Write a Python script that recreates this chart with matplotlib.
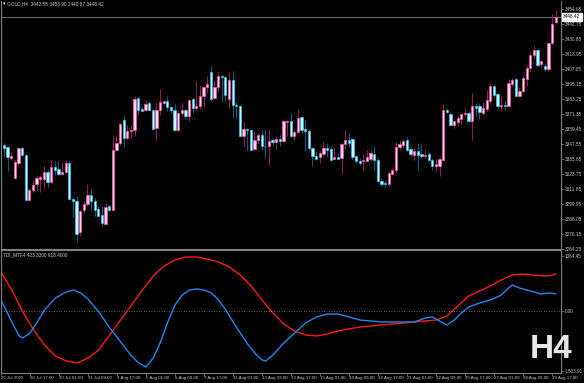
import matplotlib.pyplot as plt

plt.rcParams['font.family'] = ['Liberation Sans', 'DejaVu Sans']

# GOLD H4 candles, 25 Jul 09:00 .. 29 Aug 21:00
opens = [3360.2, 3346.5, 3344.9, 3336.4, 3320.6, 3332.5, 3344.1, 3339.1, 3303.4, 3311.3,
         3316.1, 3319.8, 3320.0, 3325.6, 3317.4, 3329.0, 3327.7, 3323.7, 3325.3, 3332.5,
         3303.9, 3302.1, 3277.5, 3294.9, 3300.2, 3307.3, 3302.6, 3296.0, 3291.5, 3284.3,
         3298.1, 3294.9, 3342.5, 3348.3, 3366.8, 3352.3, 3358.1, 3358.4, 3384.0, 3375.3,
         3374.8, 3380.1, 3374.8, 3360.2, 3374.8, 3380.1, 3381.6, 3376.6, 3374.8, 3358.9,
         3372.1, 3374.8, 3369.5, 3383.2, 3375.8, 3377.4, 3385.3, 3392.7, 3404.4, 3384.0,
         3392.7, 3401.7, 3400.7, 3383.2, 3398.0, 3378.7, 3378.0, 3353.6, 3359.4, 3358.4,
         3343.6, 3350.4, 3354.9, 3346.2, 3346.2, 3350.9, 3349.1, 3351.8, 3349.6, 3364.7,
         3365.5, 3354.1, 3357.1, 3368.9, 3359.7, 3357.6, 3344.4, 3338.3, 3337.2, 3339.9,
         3344.4, 3343.6, 3335.6, 3336.9, 3336.4, 3347.5, 3350.4, 3351.5, 3337.8, 3334.3,
         3333.8, 3333.8, 3335.6, 3339.9, 3335.1, 3317.9, 3316.6, 3316.1, 3324.0, 3326.6,
         3345.2, 3347.0, 3351.0, 3343.6, 3339.1, 3341.7, 3339.6, 3337.8, 3339.9, 3334.6,
         3330.3, 3330.3, 3334.6, 3374.8, 3371.6, 3362.9, 3364.7, 3367.4, 3371.3, 3372.1,
         3365.5, 3377.4, 3377.4, 3372.1, 3375.3, 3381.4, 3393.8, 3387.5, 3377.4, 3378.7,
         3378.0, 3395.4, 3399.1, 3385.9, 3389.3, 3399.4, 3407.8, 3418.5, 3422.0, 3411.3,
         3409.5, 3406.8, 3428.0, 3444.3]
highs = [3361.6, 3348.3, 3345.7, 3340.9, 3335.1, 3345.2, 3346.2, 3339.6, 3312.6, 3318.7,
         3321.9, 3323.2, 3330.3, 3327.2, 3335.1, 3333.8, 3333.8, 3333.0, 3335.1, 3333.8,
         3305.5, 3306.0, 3295.4, 3302.1, 3315.8, 3311.8, 3304.7, 3298.1, 3298.1, 3300.7,
         3299.4, 3354.9, 3354.9, 3364.2, 3369.5, 3362.9, 3362.9, 3385.9, 3384.8, 3377.4,
         3382.2, 3381.4, 3375.3, 3380.1, 3391.2, 3382.2, 3385.9, 3377.9, 3379.3, 3374.8,
         3380.1, 3376.1, 3383.2, 3384.8, 3397.8, 3394.6, 3393.8, 3401.7, 3409.1, 3398.6,
         3404.4, 3402.5, 3401.2, 3404.4, 3405.7, 3380.6, 3378.7, 3364.7, 3360.2, 3358.9,
         3357.6, 3356.3, 3358.9, 3358.9, 3359.4, 3352.3, 3354.1, 3354.9, 3366.8, 3366.8,
         3372.1, 3358.9, 3375.3, 3369.5, 3366.8, 3359.4, 3345.2, 3341.7, 3341.7, 3349.6,
         3348.3, 3346.2, 3345.2, 3340.4, 3348.3, 3358.9, 3356.3, 3352.3, 3339.1, 3336.4,
         3339.9, 3342.5, 3342.5, 3346.2, 3336.4, 3320.6, 3317.9, 3325.9, 3328.5, 3348.9,
         3351.0, 3351.5, 3352.8, 3345.2, 3344.4, 3348.3, 3348.3, 3342.5, 3340.9, 3336.4,
         3335.6, 3337.2, 3379.5, 3376.1, 3372.6, 3366.8, 3370.0, 3372.1, 3376.1, 3373.4,
         3388.0, 3380.1, 3380.1, 3380.6, 3390.1, 3395.9, 3395.4, 3388.0, 3385.3, 3381.4,
         3399.1, 3399.9, 3399.9, 3391.9, 3402.5, 3410.5, 3420.5, 3425.0, 3424.0, 3414.0,
         3412.1, 3428.8, 3450.5, 3453.9]
lows = [3345.2, 3337.8, 3325.9, 3335.1, 3320.0, 3331.1, 3337.8, 3302.6, 3302.6, 3309.2,
        3310.8, 3309.2, 3312.6, 3313.4, 3316.6, 3323.2, 3323.2, 3323.2, 3324.5, 3303.4,
        3289.6, 3269.0, 3274.3, 3292.8, 3298.1, 3294.1, 3290.7, 3290.2, 3282.2, 3283.5,
        3294.1, 3294.1, 3341.7, 3347.0, 3345.2, 3351.5, 3352.3, 3353.6, 3371.6, 3373.4,
        3374.0, 3374.2, 3359.2, 3350.4, 3370.8, 3379.5, 3373.4, 3372.1, 3358.1, 3358.1,
        3370.8, 3367.4, 3365.5, 3372.1, 3374.8, 3375.3, 3376.9, 3388.0, 3381.4, 3383.5,
        3389.3, 3380.6, 3381.4, 3376.1, 3368.2, 3368.2, 3353.1, 3345.2, 3341.7, 3342.5,
        3343.0, 3348.3, 3343.0, 3336.4, 3331.1, 3346.2, 3343.6, 3346.2, 3349.1, 3354.1,
        3353.1, 3350.4, 3356.3, 3356.3, 3341.7, 3343.0, 3330.3, 3335.1, 3332.5, 3339.1,
        3337.8, 3333.8, 3335.1, 3335.1, 3324.0, 3343.6, 3345.2, 3335.6, 3332.5, 3331.1,
        3326.6, 3333.0, 3333.8, 3325.9, 3316.6, 3314.5, 3312.6, 3313.9, 3323.2, 3324.5,
        3343.0, 3344.4, 3341.7, 3337.8, 3335.1, 3325.9, 3336.4, 3336.2, 3333.8, 3327.2,
        3325.9, 3321.9, 3333.8, 3372.1, 3361.6, 3360.2, 3361.6, 3362.9, 3369.5, 3364.7,
        3351.0, 3369.5, 3367.4, 3370.8, 3373.4, 3380.1, 3384.8, 3376.1, 3374.8, 3374.2,
        3377.4, 3393.3, 3385.3, 3384.8, 3388.0, 3393.3, 3405.5, 3416.0, 3408.5, 3408.1,
        3405.5, 3405.5, 3427.2, 3442.6]
closes = [3345.7, 3344.4, 3337.0, 3337.8, 3333.0, 3344.4, 3338.5, 3303.4, 3311.3, 3315.3,
          3320.6, 3321.1, 3325.3, 3317.1, 3329.0, 3327.2, 3323.7, 3325.6, 3332.2, 3303.9,
          3302.1, 3276.4, 3294.6, 3300.2, 3307.3, 3302.1, 3295.4, 3290.7, 3284.9, 3297.3,
          3295.4, 3342.5, 3348.3, 3363.4, 3352.3, 3358.1, 3358.9, 3383.5, 3374.2, 3374.0,
          3379.5, 3374.8, 3359.7, 3374.2, 3380.6, 3381.6, 3376.6, 3374.8, 3358.9, 3372.1,
          3374.8, 3369.5, 3382.7, 3376.1, 3377.4, 3385.3, 3392.7, 3395.4, 3383.5, 3392.7,
          3401.2, 3400.7, 3386.7, 3398.6, 3378.2, 3377.4, 3353.6, 3359.4, 3358.4, 3343.0,
          3350.4, 3354.9, 3346.2, 3345.7, 3349.6, 3348.9, 3351.5, 3349.9, 3365.5, 3365.5,
          3354.1, 3356.8, 3368.2, 3358.9, 3357.6, 3344.4, 3337.8, 3335.6, 3340.4, 3344.4,
          3343.0, 3335.1, 3336.9, 3335.6, 3347.5, 3350.4, 3348.3, 3336.9, 3333.8, 3332.5,
          3335.1, 3336.9, 3340.4, 3335.1, 3317.9, 3316.1, 3315.8, 3324.5, 3327.2, 3345.2,
          3347.5, 3349.6, 3343.0, 3339.6, 3341.7, 3339.1, 3337.8, 3339.1, 3334.6, 3329.8,
          3331.9, 3335.6, 3374.8, 3372.6, 3362.9, 3365.5, 3368.2, 3371.3, 3372.1, 3365.5,
          3377.4, 3376.1, 3372.6, 3376.1, 3382.2, 3393.8, 3386.7, 3377.4, 3378.7, 3378.0,
          3395.9, 3398.0, 3385.9, 3389.3, 3399.9, 3407.8, 3418.5, 3422.5, 3410.0, 3413.4,
          3407.4, 3428.0, 3443.1, 3448.42]

price_ticks = [3454.65, 3442.75, 3430.85, 3418.95, 3407.05, 3395.15, 3383.25, 3371.35, 3359.45,
               3347.55, 3335.65, 3323.75, 3311.85, 3299.95, 3288.05, 3276.15, 3264.25]
last_price = 3448.42

time_labels = ['25 Jul 2025', '28 Jul 17:00', '30 Jul 01:00', '31 Jul 09:00', '1 Aug 17:00',
               '5 Aug 01:00', '6 Aug 09:00', '7 Aug 17:00', '11 Aug 01:00', '12 Aug 09:00',
               '13 Aug 17:00', '15 Aug 01:00', '18 Aug 09:00', '19 Aug 17:00', '21 Aug 01:00',
               '22 Aug 09:00', '25 Aug 17:00', '27 Aug 01:00', '28 Aug 09:00', '29 Aug 17:00']

# TDI_MTF4 buffers, read at sampled bars
red_x = [0, 3, 6, 9, 12, 15, 18, 21, 24, 27, 30, 33, 36, 39, 42, 45, 48, 51, 54, 57,
         60, 63, 66, 69, 72, 75, 78, 81, 84, 87, 90, 93, 96, 99, 102, 105, 108, 111, 114, 117,
         120, 123, 126, 129, 132, 135, 138, 141, 144, 147, 150, 152, 153]
red_v = [965, 516, -32, -481, -855, -1130, -1254, -1304, -1180, -980,
         -606, -232, 142, 516, 866, 1115, 1265, 1340, 1340, 1290,
         1215, 1090, 891, 616, 267, -57, -331, -506, -606, -631,
         -581, -506, -456, -406, -381, -356, -331, -307, -282, -257,
         -232, -132, 117, 367, 491, 616, 766, 891, 916, 891, 866, 880, 918.4]
blue_x = [0, 3, 5, 6, 8, 10, 12, 15, 18, 20, 22, 24, 27, 30, 33, 36, 38, 40, 42, 44,
          46, 48, 50, 52, 54, 56, 58, 60, 62, 64, 66, 68, 70, 72, 73, 75, 78, 81, 84, 87,
          90, 93, 96, 99, 102, 105, 108, 111, 114, 117, 119, 121, 123, 125, 127, 129, 132, 135, 138, 140,
          141, 143, 146, 149, 151, 153]
blue_v = [267, -282, -631, -681, -556, -282, 18, 317, 467, 516,
          442, 292, -32, -431, -780, -1130, -1304, -1404, -1180, -780,
          -282, 142, 392, 516, 541, 516, 442, 267, 18, -282,
          -556, -830, -1055, -1230, -1254, -1105, -805, -556, -307, -157,
          -82, -82, -157, -232, -257, -282, -282, -282, -282, -182,
          -157, -257, -356, -232, -57, 92, 192, 267, 392, 566,
          641, 566, 491, 417, 442, 423.33]
ind_ticks = [1364.45, 0.0, -1503.91]

W, H = 584, 383
fig = plt.figure(figsize=(W / 100, H / 100), dpi=100, facecolor='black')


def box(x0, y0, x1, y1):
    return [x0 / W, 1 - y1 / H, (x1 - x0) / W, (y1 - y0) / H]


ax1 = fig.add_axes(box(1, 1, 561, 249))
ax2 = fig.add_axes(box(1, 250, 561, 373))
grey = '#808080'
txt = '#c8c8c8'

for ax in (ax1, ax2):
    ax.set_facecolor('black')
    ax.set_xlim(0.19, 154.46)
    for s in ax.spines.values():
        s.set_color(grey)
        s.set_linewidth(0.8)
ax1.spines['top'].set_visible(False)

# candles
n = len(opens)
for i in range(n):
    o, h, l, c = opens[i], highs[i], lows[i], closes[i]
    up = c >= o
    wick = '#8e1f5e' if up else '#0b5d80'
    edge = '#ff4fa8' if up else '#2cc4f2'
    face = '#ffd6ea' if up else '#d2f6ff'
    ax1.vlines(i, l, h, color=wick, lw=0.75, zorder=1)
    ax1.bar(i, max(abs(c - o), 0.5), bottom=min(o, c), width=0.62,
            facecolor=face, edgecolor=edge, lw=0.5, zorder=2)

ax1.set_ylim(3264.2, 3461.0)
ax1.axhline(last_price, color='#71808f', lw=0.6, zorder=0)
ax1.set_xticks([])
ax1.yaxis.tick_right()
ax1.set_yticks(price_ticks)
ax1.set_yticklabels([f'{v:.2f}' for v in price_ticks])
ax1.tick_params(axis='y', colors=grey, labelcolor=txt, labelsize=3.4,
                length=1.8, width=0.5, pad=0.8)
ax1.text(1.004, last_price, f'{last_price:.2f}', transform=ax1.get_yaxis_transform(),
         fontsize=3.4, color='black', va='center', ha='left',
         bbox=dict(boxstyle='square,pad=0.25', facecolor='white', edgecolor='white'))

# indicator window
ax2.plot(red_x, red_v, color='#ff1a1a', lw=1.0)
ax2.plot(blue_x, blue_v, color='#2288ee', lw=1.0)
ax2.axhline(0, color=grey, lw=0.6, ls=(0, (1, 2)))
ax2.set_ylim(-1554, 1514)
ax2.yaxis.tick_right()
ax2.set_yticks(ind_ticks)
ax2.set_yticklabels(['1364.45', '0.00', '-1503.91'])
ax2.tick_params(axis='y', colors=grey, labelcolor=txt, labelsize=3.3,
                length=1.8, width=0.5, pad=0.8)
ax2.set_xticks(range(0, 8 * len(time_labels), 8))
ax2.set_xticklabels(time_labels, ha='left')
ax2.tick_params(axis='x', colors=grey, labelcolor=txt, labelsize=3.2,
                length=2, width=0.5, pad=0.4)

fig.text(3 / W, 1 - 3.5 / H, '\u25be', fontsize=3.5, color='white', va='center', family='DejaVu Sans')
fig.text(7 / W, 1 - 3.5 / H, 'GOLD,H4  3442.55 3453.90 3440.87 3448.42',
         fontsize=3.4, color=txt, va='center')
fig.text(3 / W, 1 - 255 / H, 'TDI_MTF4 423.3300 918.4000', fontsize=3.4, color=txt, va='center')
fig.text(551 / W, 1 - 350 / H, 'H4', fontsize=24, fontweight='bold', color='#e6e6e6',
         ha='center', va='center')

fig.savefig('out.png', dpi=100, facecolor='black')
